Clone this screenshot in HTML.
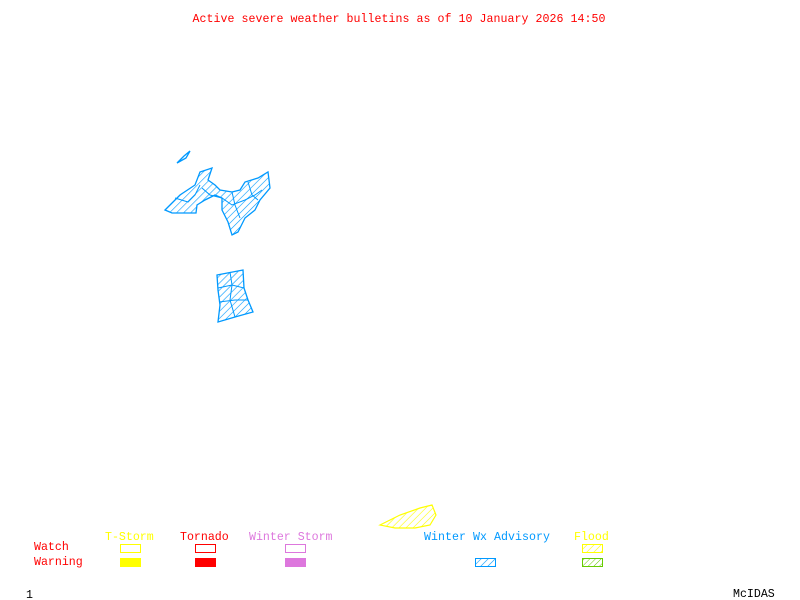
<!DOCTYPE html>
<html><head><style>
html,body{margin:0;padding:0;background:#fff;width:800px;height:600px;overflow:hidden}
svg text{font-family:"Liberation Mono",monospace;font-size:11.6px}
</style></head><body>
<svg width="800" height="600" xmlns="http://www.w3.org/2000/svg">
<defs>
<pattern id="hb" width="5" height="5" patternUnits="userSpaceOnUse" patternTransform="rotate(45)"><line x1="0" y1="0" x2="0" y2="5" stroke="#0099ff" stroke-width="1.2"/></pattern>
<pattern id="hy" width="5" height="5" patternUnits="userSpaceOnUse" patternTransform="rotate(45)"><line x1="0" y1="0" x2="0" y2="5" stroke="#ffff00" stroke-width="1.2"/></pattern>
<pattern id="hg" width="4" height="4" patternUnits="userSpaceOnUse" patternTransform="rotate(45)"><line x1="0" y1="0" x2="0" y2="4" stroke="#66cc00" stroke-width="1"/></pattern>
</defs>
<text x="399" y="22" fill="#ff0000" text-anchor="middle" textLength="413">Active severe weather bulletins as of 10 January 2026 14:50</text>
<g stroke="#0099ff" stroke-width="1.3" fill="url(#hb)">
<polygon points="177,163 184,156 190,151 186,158"/>
<polygon points="165,210 180,195 195,185 200,172 212,168 208,180 215,185 220,190 232,192 240,190 245,182 258,178 268,172 270,188 260,200 255,210 245,218 238,232 232,235 228,222 222,210 222,198 215,195 205,200 197,205 196,213 172,213"/>
<polygon points="217,275 243,270 244,288 248,300 253,312 235,317 218,322 220,305 218,290"/>
</g>
<g stroke="#0099ff" stroke-width="1" fill="none">
<polyline points="175,198 188,202 195,195 200,185"/>
<polyline points="202,188 210,195 222,198 232,205 245,200 255,195 262,190"/>
<polyline points="232,192 235,205 240,218"/>
<polyline points="248,182 252,195 258,200"/>
<polyline points="218,288 232,285 244,288"/>
<polyline points="219,302 235,300 248,300"/>
<polyline points="230,272 232,285 230,300 235,317"/>
</g>
<polygon points="380,525 400,515 420,508 432,505 436,515 430,525 415,528 395,528" stroke="#ffff00" stroke-width="1.2" fill="url(#hy)"/>
<text x="34" y="550" fill="#ff0000">Watch</text>
<text x="34" y="565" fill="#ff0000">Warning</text>
<text x="105" y="540" fill="#ffff00">T-Storm</text>
<text x="180" y="540" fill="#ff0000">Tornado</text>
<text x="249" y="540" fill="#dd77dd">Winter Storm</text>
<text x="424" y="540" fill="#0099ff" textLength="126">Winter Wx Advisory</text>
<text x="574" y="540" fill="#ffff00">Flood</text>
<rect x="120.5" y="544.5" width="20" height="8" fill="none" stroke="#ffff00"/>
<rect x="120" y="558" width="21" height="9" fill="#ffff00"/>
<rect x="195.5" y="544.5" width="20" height="8" fill="none" stroke="#ff0000"/>
<rect x="195" y="558" width="21" height="9" fill="#ff0000"/>
<rect x="285.5" y="544.5" width="20" height="8" fill="none" stroke="#dd77dd"/>
<rect x="285" y="558" width="21" height="9" fill="#dd77dd"/>
<rect x="475.5" y="558.5" width="20" height="8" fill="url(#hb)" stroke="#0099ff"/>
<rect x="582.5" y="544.5" width="20" height="8" fill="url(#hy)" stroke="#ffff00"/>
<rect x="582.5" y="558.5" width="20" height="8" fill="url(#hg)" stroke="#66cc00"/>
<text x="26" y="598" fill="#000">1</text>
<text x="733" y="597" fill="#000">McIDAS</text>
</svg>
</body></html>
